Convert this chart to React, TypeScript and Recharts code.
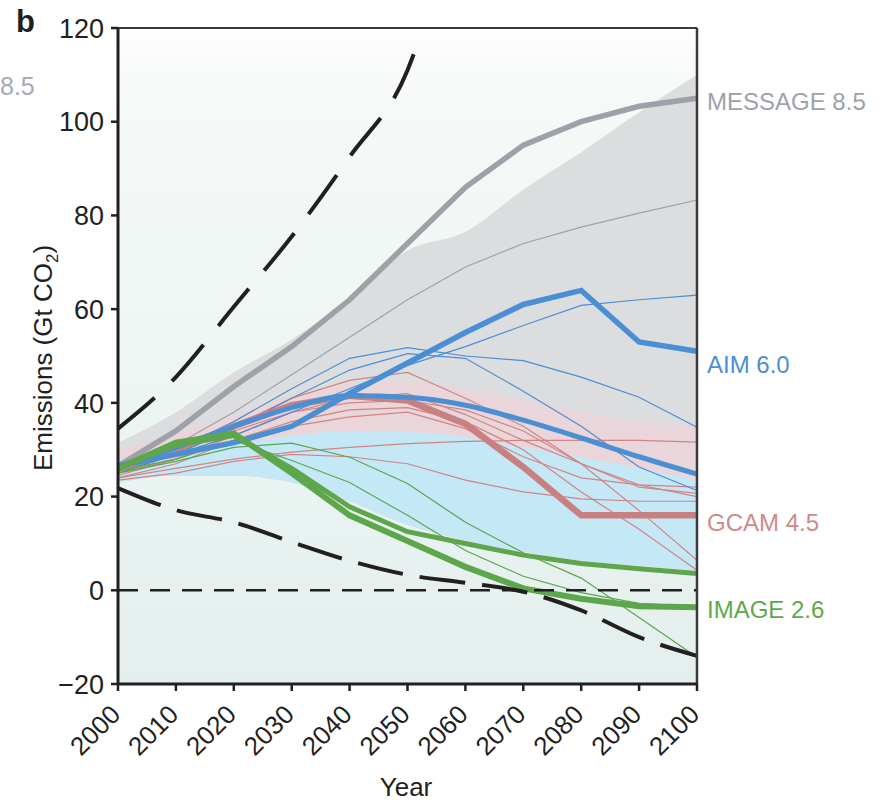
import React from "react";
import { ComposedChart, Area, Line, XAxis, YAxis, ReferenceLine, ReferenceArea } from "recharts";

const years = [2000, 2010, 2020, 2030, 2040, 2050, 2060, 2070, 2080, 2090, 2100];
const yTicks = [-20, 0, 20, 40, 60, 80, 100, 120];

// shaded ranges (low / high)
const grayLow = [23, 24.5, 24.5, 23, 19, 14, 10.7, 8.2, 6.4, 5.3, 4.3];
const grayHigh = [31.5, 38, 46.5, 53.5, 62.5, 72.5, 76.5, 85.5, 93.5, 102, 110];
const pinkHigh = [30, 33.5, 37.5, 41.5, 44, 44.5, 43, 40.5, 38, 36, 35];
const blueLow = [23, 24.5, 24.5, 23, 19, 14, 10.7, 8.2, 6.4, 5.3, 4.3];
const blueHigh = [24.5, 28, 31, 33, 34, 33.8, 32.7, 30.5, 28.4, 26, 23.5];

// highlighted model runs
const message85 = [26.5, 34, 43.5, 52, 62, 74, 86, 95, 100, 103.3, 105];
const aim60 = [26.5, 29, 31.5, 35, 42, 48.5, 55, 61, 64, 53, 51];
const aimLow = [26.5, 30.5, 35, 39, 41.5, 41.2, 39.5, 36.3, 32.5, 28.5, 24.8];
const gcam45 = [26, 30, 35, 39.5, 41.5, 40.5, 35.5, 26.3, 16, 16, 16];
const image26 = [26, 31.5, 33.5, 25, 16, 10.5, 5, 0.4, -1.8, -3.4, -3.6];
const imageUpper = [26, 31, 33, 26, 17.8, 12.5, 10, 7.5, 5.7, 4.6, 3.6];

// thin runs
const messageThin = [26, 31, 38, 46, 54, 62, 69, 74, 77.5, 80.5, 83.3];
const aimThinA = [26, 30, 36, 43, 49.5, 51.8, 50, 49, 45.5, 41.2, 34.8];
const aimThinB = [25.5, 29, 33, 38, 43, 48, 52, 56.5, 60.8, 62, 63];
const aimThinC = [25, 29, 34.5, 41, 47, 50.5, 49.5, 42.5, 35, 26.3, 21.3];
const gcamThin1 = [24, 26, 28, 29.5, 30.5, 31.3, 31.8, 32, 32, 32, 31.6];
const gcamThin2 = [25, 29, 35, 41, 44.8, 46.5, 41, 35, 27, 17, 6.4];
const gcamThin3 = [24.5, 28, 33, 38, 41, 42, 37.5, 32, 27, 22, 20.7];
const gcamThin4 = [23.5, 25, 27.5, 29, 28.5, 27, 23.5, 21, 19.5, 19, 19];
const gcamThin5 = [24, 27, 32, 36, 38.5, 39, 36, 30, 21, 13, 4.3];
const gcamThin6 = [25, 28, 32, 35, 37, 38, 34.5, 28.5, 24, 22.5, 22];
const gcamThin7 = [25.5, 29.5, 34, 38, 40, 40.5, 38.5, 34, 27, 22.5, 20];
const imageThinA = [25, 27.5, 30.5, 31.4, 28.4, 22.8, 14.5, 8, 2.6, -5.8, -14.3];
const imageThinB = [25.5, 28, 32, 27.7, 23, 16, 8.5, 3, -0.5, -2.8, -3.5];

// bounding dashed curves
const lowerBound = [21.8, 17.1, 14.5, 10.3, 6.3, 3.3, 1.6, -0.3, -4.3, -10, -14];
const upperYears = [2000, 2010, 2020, 2030, 2040, 2050, 2052];
const upperBound = [34.5, 45.5, 60.5, 75.5, 92.5, 111, 117.5];

const data = years.map((year, i) => ({
  year,
  grayBand: [grayLow[i], grayHigh[i]],
  pinkBand: [blueLow[i], pinkHigh[i]],
  blueBand: [blueLow[i], blueHigh[i]],
  message85: message85[i],
  aim60: aim60[i],
  aimLow: aimLow[i],
  gcam45: gcam45[i],
  image26: image26[i],
  imageUpper: imageUpper[i],
  messageThin: messageThin[i],
  aimThinA: aimThinA[i],
  aimThinB: aimThinB[i],
  aimThinC: aimThinC[i],
  gcamThin1: gcamThin1[i],
  gcamThin2: gcamThin2[i],
  gcamThin3: gcamThin3[i],
  gcamThin4: gcamThin4[i],
  gcamThin5: gcamThin5[i],
  gcamThin6: gcamThin6[i],
  gcamThin7: gcamThin7[i],
  imageThinA: imageThinA[i],
  imageThinB: imageThinB[i],
  lowerBound: lowerBound[i],
}));
const upperData = upperYears.map((year, i) => ({ year, upperBound: upperBound[i] }));

const FONT = '"Liberation Sans", Arial, Helvetica, sans-serif';
const INK = "#231f20";

const endLabel = (text: string, color: string, dy: number) => (props: any) => {
  const { x, y, index } = props;
  if (index !== years.length - 1) return <g />;
  return (
    <text x={x + 10} y={y + dy} fill={color} fontSize={24} fontFamily={FONT}>
      {text}
    </text>
  );
};

const YTick = (props: any) => {
  const { x, y, payload } = props;
  const v = payload.value;
  return (
    <text x={x} y={y} dy="0.36em" textAnchor="end" fontSize={27} fontFamily={FONT} fill={INK}>
      {v < 0 ? "\u2212" + Math.abs(v) : v}
    </text>
  );
};

const XTick = (props: any) => {
  const { x, y, payload } = props;
  return (
    <text
      x={0}
      y={0}
      transform={`translate(${x + 4},${y + 23}) rotate(-45)`}
      textAnchor="end"
      fontSize={26}
      fontFamily={FONT}
      fill={INK}
    >
      {payload.value}
    </text>
  );
};

const thin = (key: string, color: string) => (
  <Line
    key={key}
    dataKey={key}
    type="linear"
    stroke={color}
    strokeWidth={1.2}
    dot={false}
    activeDot={false}
    isAnimationActive={false}
  />
);

export default function App() {
  return (
    <div style={{ position: "absolute", left: 0, top: 0, width: 886, height: 804, background: "#fff", fontFamily: FONT }}>
      <ComposedChart width={886} height={804} data={data} margin={{ top: 28, right: 189, bottom: 40, left: 58 }}>
        <defs>
          <linearGradient id="bgGrad" x1="0" y1="0" x2="0" y2="1">
            <stop offset="0" stopColor="#fefefe" />
            <stop offset="0.05" stopColor="#f9fbfa" />
            <stop offset="0.12" stopColor="#f5f9f8" />
            <stop offset="0.5" stopColor="#eef6f3" />
            <stop offset="1" stopColor="#e3efee" />
          </linearGradient>
        </defs>
        <XAxis
          dataKey="year"
          type="number"
          domain={[2000, 2100]}
          ticks={years}
          interval={0}
          height={80}
          tickSize={7}
          tick={<XTick />}
          axisLine={{ stroke: INK, strokeWidth: 3 }}
          tickLine={{ stroke: INK, strokeWidth: 2.5 }}
          label={{
            content: () => (
              <text x={406} y={796} textAnchor="middle" fontSize={26} fontFamily={FONT} fill={INK}>
                Year
              </text>
            ),
          }}
        />
        <YAxis
          type="number"
          domain={[-20, 120]}
          ticks={yTicks}
          interval={0}
          width={60}
          tickSize={7}
          tickMargin={7}
          tick={<YTick />}
          allowDataOverflow
          axisLine={{ stroke: INK, strokeWidth: 3 }}
          tickLine={{ stroke: INK, strokeWidth: 2.5 }}
          label={{
            content: () => (
              <text
                transform="translate(52,358) rotate(-90)"
                textAnchor="middle"
                fontSize={26}
                fontFamily={FONT}
                fill={INK}
              >
                Emissions (Gt CO
                <tspan fontSize={17} dy={6}>2</tspan>
                <tspan dy={-6}>)</tspan>
              </text>
            ),
          }}
        />
        <ReferenceArea x1={2000} x2={2100} y1={-20} y2={120} fill="url(#bgGrad)" fillOpacity={1} stroke="none" />

        <Area dataKey="grayBand" type="monotone" fill="#dcdddf" fillOpacity={1} stroke="none" isAnimationActive={false} />
        <Area dataKey="pinkBand" type="monotone" fill="#ead5da" fillOpacity={1} stroke="none" isAnimationActive={false} />
        <Area dataKey="blueBand" type="monotone" fill="#c5e8f7" fillOpacity={1} stroke="none" isAnimationActive={false} />

        {thin("messageThin", "#9ea1a9")}
        {thin("gcamThin1", "#d08585")}
        {thin("gcamThin2", "#d08585")}
        {thin("gcamThin3", "#d08585")}
        {thin("gcamThin4", "#d08585")}
        {thin("gcamThin5", "#d08585")}
        {thin("gcamThin6", "#d08585")}
        {thin("gcamThin7", "#d08585")}
        {thin("aimThinA", "#4a8fd3")}
        {thin("aimThinB", "#4a8fd3")}
        {thin("aimThinC", "#4a8fd3")}
        {thin("imageThinA", "#5da64b")}
        {thin("imageThinB", "#5da64b")}

        <Line dataKey="message85" type="linear" stroke="#9ea1a9" strokeWidth={5.5} dot={false} activeDot={false}
          isAnimationActive={false} label={endLabel("MESSAGE 8.5", "#9ea1a9", 12)} />
        <Line dataKey="gcam45" type="linear" stroke="#c98080" strokeWidth={6.5} dot={false} activeDot={false}
          isAnimationActive={false} label={endLabel("GCAM 4.5", "#d08a8a", 16)} />
        <Line dataKey="aimLow" type="monotone" stroke="#4a8fd3" strokeWidth={5} dot={false} activeDot={false}
          isAnimationActive={false} />
        <Line dataKey="aim60" type="linear" stroke="#4a8fd3" strokeWidth={5.5} dot={false} activeDot={false}
          isAnimationActive={false} label={endLabel("AIM 6.0", "#4a8fd3", 22)} />
        <Line dataKey="imageUpper" type="linear" stroke="#5da64b" strokeWidth={5} dot={false} activeDot={false}
          isAnimationActive={false} />
        <Line dataKey="image26" type="linear" stroke="#5da64b" strokeWidth={6} dot={false} activeDot={false}
          isAnimationActive={false} label={endLabel("IMAGE 2.6", "#5ea94c", 11)} />

        <ReferenceLine y={0} stroke={INK} strokeWidth={2.5} strokeDasharray="20 12" />
        <Line dataKey="lowerBound" type="monotone" stroke={INK} strokeWidth={4} strokeDasharray="46 17"
          dot={false} activeDot={false} isAnimationActive={false} />
        <Line data={upperData} dataKey="upperBound" type="monotone" stroke={INK} strokeWidth={4}
          strokeDasharray="48 24" dot={false} activeDot={false} isAnimationActive={false} />

        <ReferenceLine y={120} stroke="#3a3a3a" strokeWidth={2} />
        <ReferenceLine x={2100} stroke="#3a3a3a" strokeWidth={2.5} />
      </ComposedChart>
      <div style={{ position: "absolute", left: 16, top: 4, fontSize: 31, fontWeight: "bold", color: INK }}>b</div>
      <div style={{ position: "absolute", left: 0, top: 72, fontSize: 25, color: "#a5aab6" }}>8.5</div>
    </div>
  );
}
